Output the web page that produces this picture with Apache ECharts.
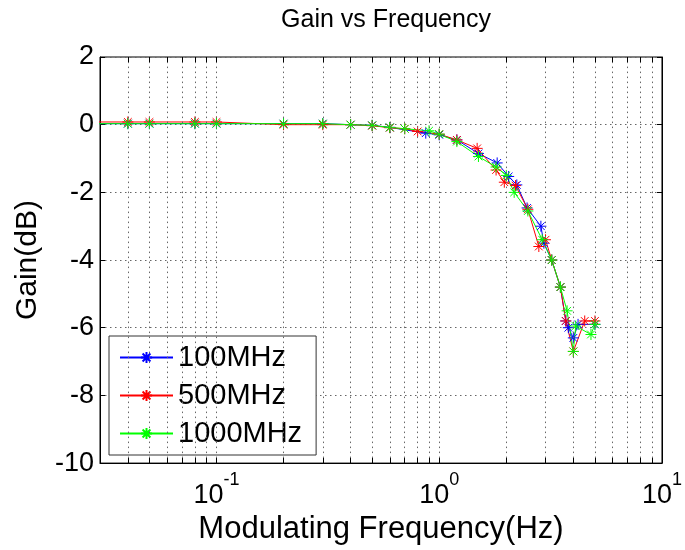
<!DOCTYPE html>
<html>
<head>
<meta charset="utf-8">
<script src="https://cdn.jsdelivr.net/npm/echarts@6/dist/echarts.min.js"></script>
<style>
  html, body { margin: 0; padding: 0; background: #fff; }
  #main { width: 685px; height: 550px; }
</style>
</head>
<body>
<div id="main"></div>
<script>
// 数据：频率(Hz) 和 增益(dB)
var freq100 = [0.02, 0.04, 0.05, 0.08, 0.1, 0.2, 0.3, 0.4, 0.5, 0.6, 0.87, 1.0, 1.2, 1.5, 1.82, 2.05, 2.23, 2.48, 2.86, 2.95, 3.2, 3.5, 3.7, 3.8, 4.0, 4.2, 5.0];
var gain100 = [0.03, 0.03, 0.03, 0.03, 0.03, 0.03, 0.03, 0.0, -0.02, -0.08, -0.25, -0.3, -0.45, -0.85, -1.13, -1.53, -1.78, -2.46, -3.0, -3.5, -4.0, -4.8, -5.8, -6.0, -6.3, -5.9, -5.9];

var freq500 = [0.02, 0.04, 0.05, 0.08, 0.1, 0.2, 0.3, 0.4, 0.5, 0.6, 0.7, 0.8, 1.0, 1.2, 1.48, 1.8, 1.96, 2.2, 2.5, 2.8, 3.0, 3.2, 3.5, 3.7, 4.0, 4.5, 5.0];
var gain500 = [0.08, 0.08, 0.08, 0.08, 0.08, 0.0, 0.0, 0.0, -0.03, -0.09, -0.12, -0.2, -0.28, -0.45, -0.7, -1.34, -1.7, -1.8, -2.5, -3.6, -3.4, -4.0, -4.8, -5.8, -6.7, -5.8, -5.8];

var freq1000 = [0.02, 0.04, 0.05, 0.08, 0.1, 0.2, 0.3, 0.4, 0.5, 0.6, 0.7, 0.9, 1.0, 1.2, 1.5, 1.8, 2.0, 2.17, 2.5, 2.9, 3.2, 3.5, 3.75, 4.0, 4.1, 4.8, 5.0];
var gain1000 = [0.03, 0.03, 0.03, 0.03, 0.03, 0.03, 0.03, 0.0, -0.02, -0.08, -0.12, -0.18, -0.28, -0.5, -0.94, -1.25, -1.5, -2.0, -2.55, -3.4, -4.0, -4.8, -5.5, -6.7, -5.95, -6.2, -5.9];

// 对数网格线位置
var logTicks = [0.04, 0.05, 0.06, 0.07, 0.08, 0.09, 0.1, 0.2, 0.3, 0.4, 0.5, 0.6, 0.7, 0.8, 0.9, 1, 2, 3, 4, 5, 6, 7, 8, 9];

var yMin = -10, yMax = 2;
var FONT = 'Liberation Sans';

function pairs(xs, ys) {
  var out = [];
  for (var i = 0; i < xs.length; i++) out.push([xs[i], ys[i]]);
  return out;
}

var starPath = 'path://M5,0L5,10M0,5L10,5M1.5,1.5L8.5,8.5M1.5,8.5L8.5,1.5';

function makeSeries(name, color, data) {
  return {
    name: name,
    type: 'line',
    data: data,
    clip: true,
    symbol: starPath,
    symbolSize: 11,
    showAllSymbol: true,
    lineStyle: { color: color, width: 1 },
    itemStyle: { color: color, borderColor: color, borderWidth: 1 },
    emphasis: { disabled: true },
    z: 3
  };
}

// 网格和刻度线
var gridLines = [];
logTicks.forEach(function (f) {
  gridLines.push([
    { coord: [f, yMin], lineStyle: { type: [1.5, 3.5], color: '#666', width: 1 } },
    { coord: [f, yMax] }
  ]);
  gridLines.push([
    { coord: [f, yMin], lineStyle: { type: 'solid', color: '#000', width: 1 } },
    { coord: [f, yMin + 0.15] }
  ]);
  gridLines.push([
    { coord: [f, yMax], lineStyle: { type: 'solid', color: '#000', width: 1 } },
    { coord: [f, yMax - 0.15] }
  ]);
});

var chart = echarts.init(document.getElementById('main'));

var option = {
  animation: false,
  backgroundColor: '#fff',
  textStyle: { fontFamily: FONT },
  title: {
    text: 'Gain vs Frequency',
    left: 381,
    textAlign: 'center',
    top: 3,
    textStyle: { fontSize: 25, fontWeight: 'normal', color: '#000', fontFamily: FONT }
  },
  grid: {
    left: 100, right: 22, top: 57, bottom: 86,
    show: true, borderColor: '#000', borderWidth: 1, backgroundColor: '#fff'
  },
  legend: {
    orient: 'vertical',
    left: 109,
    top: 336,
    itemWidth: 53,
    itemHeight: 14,
    itemGap: 9,
    padding: [7, 14, 7, 10],
    borderColor: '#333',
    borderWidth: 1,
    backgroundColor: '#fff',
    textStyle: { fontSize: 29, color: '#000', fontFamily: FONT },
    data: ['100MHz', '500MHz', '1000MHz']
  },
  xAxis: {
    type: 'log',
    logBase: 10,
    min: 0.03,
    max: 10,
    name: 'Modulating Frequency(Hz)',
    nameLocation: 'middle',
    nameGap: 46,
    nameTextStyle: { fontSize: 31, color: '#000', fontFamily: FONT },
    axisLine: { show: true, onZero: false, lineStyle: { color: '#000' } },
    axisTick: { show: false },
    splitLine: { show: false },
    axisLabel: {
      showMinLabel: false,
      margin: 8,
      formatter: function (v) {
        var e = Math.log10(v);
        if (Math.abs(e - Math.round(e)) > 1e-6) return '';
        return '{b|10}{e|' + Math.round(e) + '}';
      },
      rich: {
        b: { fontSize: 27, color: '#000', fontFamily: FONT, verticalAlign: 'bottom', lineHeight: 38 },
        e: { fontSize: 18, color: '#000', fontFamily: FONT, verticalAlign: 'top', lineHeight: 38 }
      }
    }
  },
  yAxis: [{
    type: 'value',
    min: yMin,
    max: yMax,
    interval: 2,
    name: 'Gain(dB)',
    nameLocation: 'middle',
    nameGap: 57,
    nameTextStyle: { fontSize: 30, color: '#000', fontFamily: FONT },
    axisLine: { show: true, onZero: false, lineStyle: { color: '#000' } },
    axisTick: { show: true, inside: true, length: 5, lineStyle: { color: '#000' } },
    splitLine: { show: true, lineStyle: { type: [1.5, 3.5], color: '#666' } },
    axisLabel: { fontSize: 27, color: '#000', margin: 6, fontFamily: FONT }
  }, {
    type: 'value',
    min: yMin,
    max: yMax,
    interval: 2,
    position: 'right',
    axisLine: { show: true, onZero: false, lineStyle: { color: '#000' } },
    axisTick: { show: true, inside: true, length: 5, lineStyle: { color: '#000' } },
    splitLine: { show: false },
    axisLabel: { show: false }
  }],
  series: [
    {
      type: 'line',
      data: [],
      silent: true,
      z: 1,
      markLine: {
        silent: true,
        symbol: ['none', 'none'],
        label: { show: false },
        animation: false,
        data: gridLines
      }
    },
    makeSeries('100MHz', '#0000ff', pairs(freq100, gain100)),
    makeSeries('500MHz', '#ff0000', pairs(freq500, gain500)),
    makeSeries('1000MHz', '#00ff00', pairs(freq1000, gain1000))
  ]
};

chart.setOption(option);
</script>
</body>
</html>
